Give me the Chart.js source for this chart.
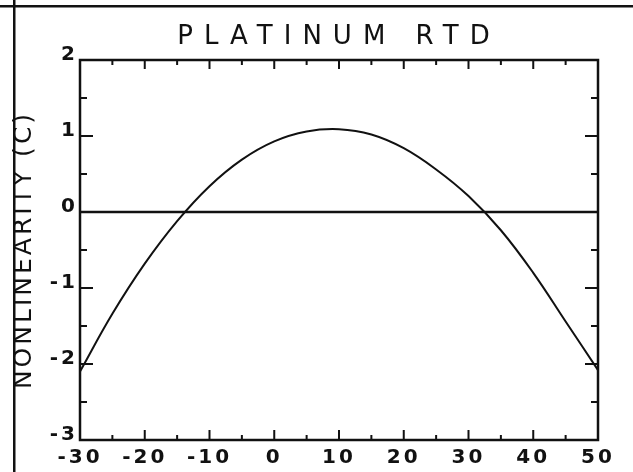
<!DOCTYPE html>
<html lang="en">
  <head>
    <meta charset="UTF-8" />
    <title>Platinum RTD</title>
    <script src="https://cdn.jsdelivr.net/npm/chart.js@4/dist/chart.umd.min.js"></script>
    <style>
      html, body { margin: 0; padding: 0; background: #fff; }
      #wrap { width: 633px; height: 472px; }
    </style>
  </head>
  <body>
    <div id="wrap"><canvas id="myChart"></canvas></div>

    <script>
      // temperature (C) vs. nonlinearity (C)
      const temps = [-30, -25, -20, -15, -10, -5, 0, 5, 10, 15, 20, 25, 30, 35, 40, 45, 50];
      const nonlinearity = [-2.1, -1.34, -0.68, -0.12, 0.34, 0.69, 0.93, 1.06, 1.09, 1.02, 0.84, 0.56, 0.21, -0.24, -0.8, -1.44, -2.08];

      const zeroX = [-30, 50];
      const zeroY = [0, 0];

      const chartTitle = "PLATINUM RTD";
      const yTitle = "NONLINEARITY (C)";

      const ink = "#111";

      // inward ticks on all 4 sides + frame, like the old plotter output
      const frame = {
        id: "frame",
        beforeDraw(chart) {
          const ctx = chart.ctx;
          ctx.save();
          ctx.fillStyle = "#fff";
          ctx.fillRect(0, 0, chart.width, chart.height);
          ctx.fillStyle = ink;
          // scan border
          ctx.fillRect(13, 0, 2.5, chart.height);
          ctx.fillRect(0, 5, chart.width, 2.5);
          ctx.restore();
        },
        afterDatasetsDraw(chart) {
          const ctx = chart.ctx;
          const a = chart.chartArea;
          const xs = chart.scales.x;
          const ys = chart.scales.y;
          ctx.save();
          ctx.strokeStyle = ink;
          ctx.lineWidth = 2.5;
          ctx.strokeRect(a.left, a.top, a.right - a.left, a.bottom - a.top);
          ctx.lineWidth = 2;
          ctx.beginPath();
          const xv = xs.ticks.map((t) => t.value);
          for (let i = 0; i < xv.length; i++) {
            const px = xs.getPixelForValue(xv[i]);
            if (i > 0 && i < xv.length - 1) {
              ctx.moveTo(px, a.bottom); ctx.lineTo(px, a.bottom - 10);
              ctx.moveTo(px, a.top); ctx.lineTo(px, a.top + 9);
            }
            if (i < xv.length - 1) {
              const pm = xs.getPixelForValue((xv[i] + xv[i + 1]) / 2);
              ctx.moveTo(pm, a.bottom); ctx.lineTo(pm, a.bottom - 5);
              ctx.moveTo(pm, a.top); ctx.lineTo(pm, a.top + 5);
            }
          }
          const yv = ys.ticks.map((t) => t.value);
          for (let i = 0; i < yv.length; i++) {
            const py = ys.getPixelForValue(yv[i]);
            if (i > 0 && i < yv.length - 1) {
              ctx.moveTo(a.left, py); ctx.lineTo(a.left + 13, py);
              ctx.moveTo(a.right, py); ctx.lineTo(a.right - 13, py);
            }
            if (i < yv.length - 1) {
              const pm = ys.getPixelForValue((yv[i] + yv[i + 1]) / 2);
              ctx.moveTo(a.left, pm); ctx.lineTo(a.left + 7, pm);
              ctx.moveTo(a.right, pm); ctx.lineTo(a.right - 7, pm);
            }
          }
          ctx.stroke();
          ctx.restore();
        },
      };

      // the plotter font is widely spaced; the title even more so
      const spacing = {
        id: "spacing",
        beforeLayout(chart) {
          chart.ctx.letterSpacing = "3px";
        },
        afterLayout(chart) {
          const tb = chart.titleBlock;
          if (tb && !tb._spaced) {
            const draw = tb.draw.bind(tb);
            tb.draw = function () {
              chart.ctx.letterSpacing = "11px";
              draw();
              chart.ctx.letterSpacing = "3px";
            };
            tb._spaced = true;
          }
        },
        beforeDraw(chart) {
          chart.ctx.letterSpacing = "3px";
        },
      };

      const data = {
        datasets: [
          {
            label: "nonlinearity",
            data: temps.map((t, i) => ({ x: t, y: nonlinearity[i] })),
            borderColor: ink,
            borderWidth: 2,
            pointRadius: 0,
            tension: 0.4,
          },
          {
            label: "zero",
            data: zeroX.map((t, i) => ({ x: t, y: zeroY[i] })),
            borderColor: ink,
            borderWidth: 2.5,
            pointRadius: 0,
          },
        ],
      };

      const config = {
        type: "line",
        data,
        plugins: [spacing, frame],
        options: {
          responsive: true,
          maintainAspectRatio: false,
          animation: false,
          layout: { padding: { left: 0, right: 35, top: 0, bottom: 0 } },
          plugins: {
            legend: { display: false },
            tooltip: { enabled: false },
            title: {
              display: true,
              text: chartTitle,
              fullSize: false,
              color: ink,
              font: { family: "DejaVu Sans", size: 26, weight: "normal", lineHeight: 1 },
              padding: { top: 24, bottom: 10 },
            },
          },
          scales: {
            x: {
              type: "linear",
              min: -30,
              max: 50,
              grid: { display: false, drawTicks: false },
              border: { display: false },
              ticks: {
                stepSize: 10,
                color: ink,
                padding: 8,
                maxRotation: 0,
                font: { family: "DejaVu Sans", size: 20, weight: "bold", lineHeight: 1 },
              },
              afterFit(scale) { scale.height = 32; },
            },
            y: {
              min: -3,
              max: 2,
              grid: { display: false, drawTicks: false },
              border: { display: false },
              ticks: {
                stepSize: 1,
                color: ink,
                padding: 2,
                labelOffset: -5,
                font: { family: "DejaVu Sans", size: 20, weight: "bold", lineHeight: 1 },
              },
              title: {
                display: true,
                text: yTitle,
                color: ink,
                font: { family: "DejaVu Sans", size: 25, lineHeight: 1 },
                padding: { top: 12, bottom: 0 },
              },
              afterFit(scale) { scale.width = 80; },
            },
          },
        },
      };

      var myChart = new Chart(document.getElementById("myChart"), config);
    </script>
  </body>
</html>
